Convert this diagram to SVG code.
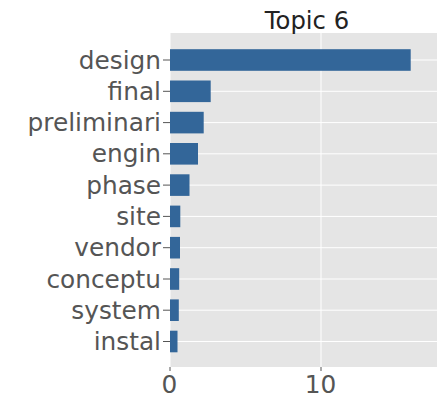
<svg xmlns="http://www.w3.org/2000/svg" width="437" height="395" viewBox="0 0 437 395">
  <style>
    .grid { stroke: #ffffff; stroke-width: 1; }
    .bar { fill: #336699; }
    .tick { stroke: #555555; stroke-width: 1; }
    .ylab { font-family: "DejaVu Sans", sans-serif; font-size: 24.8px; fill: #555555; text-anchor: end; dominant-baseline: central; }
    .xlab { font-family: "DejaVu Sans", sans-serif; font-size: 24.8px; fill: #555555; text-anchor: middle; }
    .title { font-family: "DejaVu Sans", sans-serif; font-size: 24.3px; fill: #222222; text-anchor: middle; }
  </style>
  <rect width="437" height="395" fill="#ffffff"/>
  <!-- axes background -->
  <rect x="170" y="33" width="267" height="334" fill="#e5e5e5"/>
  <!-- grid -->
  <g id="grid">
    <line class="grid" x1="170" y1="33" x2="170" y2="367"/>
    <line class="grid" x1="321" y1="33" x2="321" y2="367"/>
    <line class="grid" x1="170" y1="60" x2="437" y2="60"/>
    <line class="grid" x1="170" y1="91.3" x2="437" y2="91.3"/>
    <line class="grid" x1="170" y1="122.6" x2="437" y2="122.6"/>
    <line class="grid" x1="170" y1="153.8" x2="437" y2="153.8"/>
    <line class="grid" x1="170" y1="185.1" x2="437" y2="185.1"/>
    <line class="grid" x1="170" y1="216.4" x2="437" y2="216.4"/>
    <line class="grid" x1="170" y1="247.7" x2="437" y2="247.7"/>
    <line class="grid" x1="170" y1="279" x2="437" y2="279"/>
    <line class="grid" x1="170" y1="310.2" x2="437" y2="310.2"/>
    <line class="grid" x1="170" y1="341.5" x2="437" y2="341.5"/>
  </g>
  <!-- bars -->
  <g id="bars">
    <rect id="bar-design" class="bar" x="170" y="49.2" width="240.7" height="21.6"/>
    <rect id="bar-final" class="bar" x="170" y="80.5" width="40.7" height="21.6"/>
    <rect id="bar-preliminari" class="bar" x="170" y="111.8" width="33.7" height="21.6"/>
    <rect id="bar-engin" class="bar" x="170" y="143" width="28" height="21.6"/>
    <rect id="bar-phase" class="bar" x="170" y="174.3" width="19.5" height="21.6"/>
    <rect id="bar-site" class="bar" x="170" y="205.6" width="10.3" height="21.6"/>
    <rect id="bar-vendor" class="bar" x="170" y="236.9" width="10" height="21.6"/>
    <rect id="bar-conceptu" class="bar" x="170" y="268.2" width="9.2" height="21.6"/>
    <rect id="bar-system" class="bar" x="170" y="299.4" width="8.8" height="21.6"/>
    <rect id="bar-instal" class="bar" x="170" y="330.7" width="7.5" height="21.6"/>
  </g>
  <!-- ticks -->
  <g id="ticks">
    <line class="tick" x1="163" y1="60" x2="170" y2="60"/>
    <line class="tick" x1="163" y1="91.3" x2="170" y2="91.3"/>
    <line class="tick" x1="163" y1="122.6" x2="170" y2="122.6"/>
    <line class="tick" x1="163" y1="153.8" x2="170" y2="153.8"/>
    <line class="tick" x1="163" y1="185.1" x2="170" y2="185.1"/>
    <line class="tick" x1="163" y1="216.4" x2="170" y2="216.4"/>
    <line class="tick" x1="163" y1="247.7" x2="170" y2="247.7"/>
    <line class="tick" x1="163" y1="279" x2="170" y2="279"/>
    <line class="tick" x1="163" y1="310.2" x2="170" y2="310.2"/>
    <line class="tick" x1="163" y1="341.5" x2="170" y2="341.5"/>
    <line class="tick" x1="170" y1="367" x2="170" y2="371"/>
    <line class="tick" x1="321" y1="367" x2="321" y2="371"/>
  </g>
  <!-- labels -->
  <g id="labels">
    <text class="ylab" x="161" y="60">design</text>
    <text class="ylab" x="161" y="91.3">final</text>
    <text class="ylab" x="161" y="122.6">preliminari</text>
    <text class="ylab" x="161" y="153.8">engin</text>
    <text class="ylab" x="161" y="185.1">phase</text>
    <text class="ylab" x="161" y="216.4">site</text>
    <text class="ylab" x="161" y="247.7">vendor</text>
    <text class="ylab" x="161" y="279">conceptu</text>
    <text class="ylab" x="161" y="310.2">system</text>
    <text class="ylab" x="161" y="341.5">instal</text>
    <text class="xlab" x="169.5" y="393">0</text>
    <text class="xlab" x="320.5" y="393">10</text>
    <text class="title" x="307" y="29">Topic 6</text>
  </g>
</svg>
